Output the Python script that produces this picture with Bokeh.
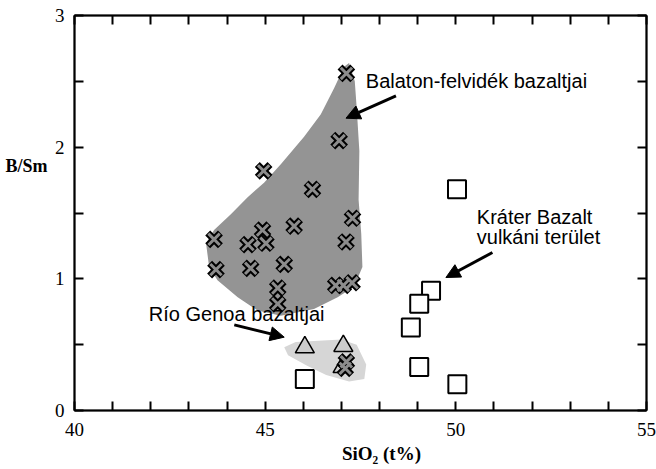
from bokeh.plotting import figure
from bokeh.models import (ColumnDataSource, FixedTicker, LinearAxis, Arrow,
                          NormalHead, Range1d, CustomJSTickFormatter)
from bokeh.core.properties import value
from bokeh.embed import file_html
from bokeh.resources import INLINE

# ---- data ----
# Balaton-felvidék basalts (crosses)
bal_x = [47.13, 46.94, 44.96, 46.24, 47.29, 45.76, 43.66, 47.12, 44.93, 44.55,
         45.02, 43.71, 44.62, 45.50, 45.33, 45.33, 46.85, 47.05, 47.28]
bal_y = [2.56, 2.05, 1.82, 1.68, 1.46, 1.40, 1.30, 1.28, 1.37, 1.26,
         1.27, 1.07, 1.08, 1.11, 0.93, 0.81, 0.95, 0.95, 0.97]
# Río Genoa basalts (crosses + triangles)
gen_cross_x = [47.13, 47.10]
gen_cross_y = [0.37, 0.32]
gen_tri_x = [46.04, 47.05, 47.03]
gen_tri_y = [0.48, 0.49, 0.33]
# Kráter Bazalt volcanic field (squares)
kra_x = [50.03, 49.35, 49.04, 48.82, 49.04, 50.04, 46.04]
kra_y = [1.68, 0.91, 0.81, 0.63, 0.33, 0.20, 0.24]

# shaded fields
bal_poly_x = [47.20, 47.35, 47.40, 47.47, 47.45, 47.52, 47.55, 47.33, 46.90, 46.28,
              45.41, 44.80, 44.28, 43.75, 43.53, 43.45, 43.66, 44.10, 44.54, 44.97,
              45.41, 46.02, 46.46, 46.81, 47.07]
bal_poly_y = [2.64, 2.50, 2.30, 1.97, 1.60, 1.34, 1.09, 0.94, 0.86, 0.77,
              0.72, 0.76, 0.86, 0.99, 1.09, 1.27, 1.37, 1.49, 1.62, 1.73,
              1.87, 2.08, 2.25, 2.45, 2.61]
gen_poly_x = [45.50, 45.80, 46.40, 47.00, 47.40, 47.65, 47.60, 47.20, 46.60, 46.10, 45.60]
gen_poly_y = [0.48, 0.52, 0.53, 0.54, 0.50, 0.35, 0.24, 0.22, 0.27, 0.34, 0.42]

# annotations
ann_text = ["Balaton-felvidék bazaltjai", "Kráter Bazalt", "vulkáni terület",
            "Río Genoa bazaltjai"]
ann_x = [47.64, 50.55, 50.55, 41.95]
ann_y = [2.50, 1.47, 1.32, 0.73]
arrow_x0 = [48.43, 50.96, 44.19]
arrow_y0 = [2.39, 1.20, 0.65]
arrow_x1 = [47.12, 49.74, 45.50]
arrow_y1 = [2.22, 1.01, 0.557]

x_major = [40, 45, 50, 55]
x_minor = [v for v in range(41, 55) if v % 5 != 0]
y_major = [0, 1, 2, 3]
y_minor = [0.5, 1.5, 2.5]

x_title = "SiO₂ (t%)"
y_title = "B/Sm"
x_title_pos = [48.05]
y_title_pos = [1.86]

# ---- figure ----
p = figure(width=656, height=469, x_range=Range1d(40, 55), y_range=Range1d(0, 3),
           output_backend="svg", toolbar_location=None,
           min_border_left=74, min_border_right=10, min_border_top=15,
           min_border_bottom=59)
p.grid.visible = False
p.background_fill_color = "white"
p.outline_line_color = "black"
p.outline_line_width = 1.5

SERIF = "Times"
SANS = "Arial"


def style_axis(ax, show_labels):
    ax.axis_line_width = 2
    ax.axis_line_color = "black"
    ax.major_tick_in = 9
    ax.major_tick_out = 0
    ax.minor_tick_in = 9
    ax.minor_tick_out = 0
    ax.major_tick_line_width = 2
    ax.minor_tick_line_width = 2
    ax.major_tick_line_color = "black"
    ax.minor_tick_line_color = "black"
    if show_labels:
        ax.major_label_text_font = SERIF
        ax.major_label_text_font_size = "19px"
        ax.major_label_text_color = "black"
    else:
        ax.formatter = CustomJSTickFormatter(code="return '';")
        ax.major_label_text_font_size = "1px"
        ax.major_label_standoff = 0


p.xaxis.ticker = FixedTicker(ticks=x_major, minor_ticks=x_minor)
p.yaxis.ticker = FixedTicker(ticks=y_major, minor_ticks=y_minor)
style_axis(p.xaxis[0], True)
style_axis(p.yaxis[0], True)
p.xaxis.major_label_standoff = 12
p.yaxis.major_label_standoff = 10

top = LinearAxis(ticker=FixedTicker(ticks=x_major, minor_ticks=x_minor))
style_axis(top, False)
p.add_layout(top, "above")
right = LinearAxis(ticker=FixedTicker(ticks=y_major, minor_ticks=y_minor))
style_axis(right, False)
p.add_layout(right, "right")


# axis titles as single-label axes (placed at the reference positions)
def title_axis(ticks, text, standoff, size):
    ax = LinearAxis(ticker=FixedTicker(ticks=ticks, minor_ticks=[]),
                    formatter=CustomJSTickFormatter(code="return %r;" % text))
    ax.axis_line_color = None
    ax.major_tick_line_color = None
    ax.minor_tick_line_color = None
    ax.major_tick_in = 0
    ax.major_tick_out = 0
    ax.minor_tick_in = 0
    ax.minor_tick_out = 0
    ax.major_label_standoff = standoff
    ax.major_label_text_font = SERIF
    ax.major_label_text_font_style = "bold"
    ax.major_label_text_font_size = size
    ax.major_label_text_color = "black"
    return ax


p.add_layout(title_axis(x_title_pos, x_title, 4, "19px"), "below")
p.add_layout(title_axis(y_title_pos, y_title, 4, "18px"), "left")

# shaded fields
p.patch(bal_poly_x, bal_poly_y, fill_color="#949494", line_color=None)
p.patch(gen_poly_x, gen_poly_y, fill_color="#d6d6d6", line_color=None)

# squares
p.scatter(kra_x, kra_y, marker="square", size=18, fill_color="white",
          line_color="black", line_width=2)
# triangles
p.scatter(gen_tri_x, gen_tri_y, marker="triangle", size=19, fill_color="#cccccc",
          line_color="black", line_width=1.5)

# crosses (outlined X)
cx = bal_x + gen_cross_x
cy = bal_y + gen_cross_y
p.scatter(cx, cy, marker="x", size=18, line_color="black", line_width=7)
p.scatter(cx, cy, marker="x", size=16, line_color="#8c8c8c", line_width=3)

# annotation texts
src = ColumnDataSource(dict(x=ann_x, y=ann_y, t=ann_text))
p.text(x="x", y="y", text="t", source=src, text_font=value(SANS),
       text_font_size="20px", text_align="left", text_baseline="middle",
       text_color="black")

for x0, y0, x1, y1 in zip(arrow_x0, arrow_y0, arrow_x1, arrow_y1):
    p.add_layout(Arrow(end=NormalHead(size=14, fill_color="black", line_color="black"),
                       x_start=x0, y_start=y0, x_end=x1, y_end=y1,
                       line_width=3, line_color="black"))

open("out.html", "w").write(file_html(p, INLINE))
